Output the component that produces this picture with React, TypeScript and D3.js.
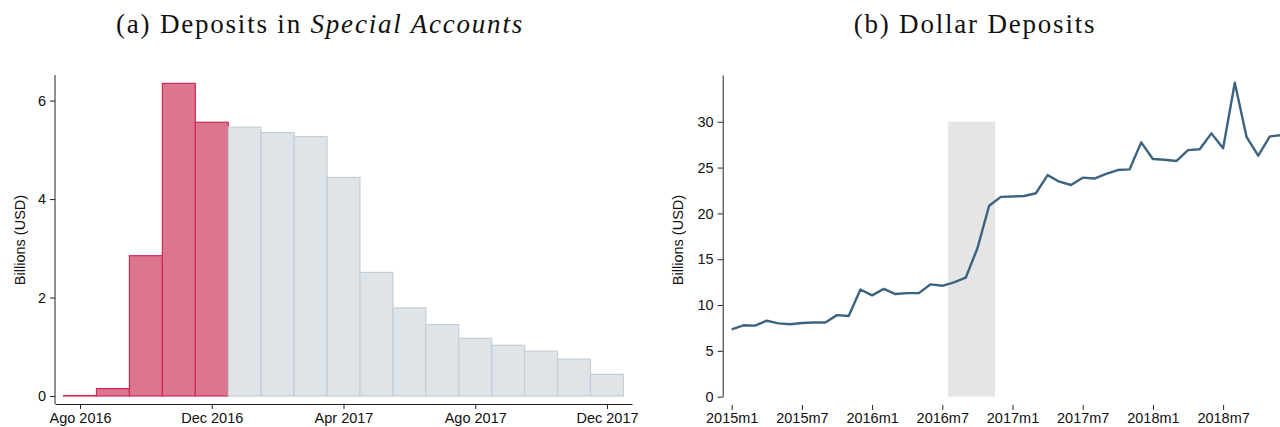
import React, { useEffect, useRef } from 'react'
import * as d3 from 'd3'

// panel (a): special accounts, monthly, Ago 2016 .. Dec 2017
const specialMonths = [
  'Ago 2016', 'Sep 2016', 'Oct 2016', 'Nov 2016', 'Dec 2016',
  'Jan 2017', 'Feb 2017', 'Mar 2017', 'Apr 2017', 'May 2017', 'Jun 2017',
  'Jul 2017', 'Ago 2017', 'Sep 2017', 'Oct 2017', 'Nov 2017', 'Dec 2017',
]
const specialValues = [0.01, 0.15, 2.85, 6.35, 5.56, 5.46, 5.35, 5.27, 4.44, 2.51, 1.79, 1.45, 1.17, 1.03, 0.91, 0.75, 0.44]
const specialWindow = ['Ago 2016', 'Sep 2016', 'Oct 2016', 'Nov 2016', 'Dec 2016']
const specialTicks = ['Ago 2016', 'Dec 2016', 'Apr 2017', 'Ago 2017', 'Dec 2017']
const specialYTicks = [0, 2, 4, 6]

// panel (b): dollar deposits, monthly from 2015m1
const dollarStart = { year: 2015, month: 1 }
const dollarValues = [
  7.35, 7.79, 7.75, 8.29, 8.0, 7.9, 8.04, 8.1, 8.1, 8.9, 8.8, 11.7,
  11.06, 11.76, 11.2, 11.3, 11.3, 12.26, 12.1, 12.48, 12.98, 16.19, 20.84, 21.8,
  21.85, 21.9, 22.2, 24.18, 23.46, 23.1, 23.9, 23.8, 24.3, 24.73, 24.8, 27.75,
  25.93, 25.86, 25.71, 26.9, 27.0, 28.73, 27.1, 34.26, 28.36, 26.3, 28.4, 28.55,
]
const dollarShade = { from: '2016m8', to: '2016m11', height: 30 }
const dollarTicks = ['2015m1', '2015m7', '2016m1', '2016m7', '2017m1', '2017m7', '2018m1', '2018m7']
const dollarYTicks = [0, 5, 10, 15, 20, 25, 30]

const W = 1280
const H = 427
const SANS = "'Liberation Sans', Arial, sans-serif"
const SERIF = "'Liberation Serif', 'Times New Roman', serif"
const TICK_FS = 14.5

const dollarIndex = (lbl: string) => {
  const [y, m] = lbl.split('m').map(Number)
  return (y - dollarStart.year) * 12 + (m - dollarStart.month)
}

export default function App() {
  const svgRef = useRef<SVGSVGElement | null>(null)

  useEffect(() => {
    const svg = d3.select(svgRef.current)
    svg.selectAll('*').remove()

    // ---------- panel (a)
    const a = svg.append('g')
    const ax = d3.scaleLinear().domain([-0.76, specialMonths.length - 0.24]).range([55, 632])
    const ay = d3.scaleLinear().domain([0, 6.52]).range([396, 75])
    const bw = ax(1) - ax(0)

    a.append('g')
      .selectAll('rect')
      .data(specialValues)
      .join('rect')
      .attr('x', (_, i) => ax(i) - bw / 2)
      .attr('y', d => ay(d))
      .attr('width', bw)
      .attr('height', d => ay(0) - ay(d))
      .attr('fill', (_, i) => specialWindow.includes(specialMonths[i]) ? '#dc7590' : '#dfe4e9')
      .attr('stroke', (_, i) => specialWindow.includes(specialMonths[i]) ? '#cf2b53' : '#c3ced7')
      .attr('stroke-width', 1.2)

    a.append('g')
      .attr('transform', 'translate(0,404)')
      .call(d3.axisBottom(ax)
        .tickValues(specialTicks.map(t => specialMonths.indexOf(t)))
        .tickFormat(i => specialMonths[+i])
        .tickSize(5).tickSizeOuter(0).tickPadding(4))
    a.append('g')
      .attr('transform', 'translate(55,0)')
      .call(d3.axisLeft(ay).tickValues(specialYTicks).tickFormat(d3.format('d'))
        .tickSize(5).tickSizeOuter(0).tickPadding(4))
    a.select('g:nth-of-type(3) .domain').attr('d', 'M0,75V404')

    a.append('text')
      .attr('transform', 'translate(25,240) rotate(-90)')
      .attr('text-anchor', 'middle')
      .attr('font-family', SANS).attr('font-size', 14.5).attr('fill', '#111')
      .text('Billions (USD)')

    // serif titles; a little tracking to approach the LaTeX width
    const ta = a.append('text')
      .attr('x', 320).attr('y', 33)
      .attr('text-anchor', 'middle')
      .attr('font-family', SERIF).attr('font-size', 27).attr('letter-spacing', 1.8).attr('fill', '#111')
    ta.append('tspan').text('(a) Deposits in ')
    ta.append('tspan').attr('font-style', 'italic').text('Special Accounts')

    // ---------- panel (b)
    const b = svg.append('g')
    const bx = d3.scaleLinear().domain([-0.77, 47]).range([722.7, 722.7 + 47.77 * 11.7])
    const by = d3.scaleLinear().domain([0, 35.1]).range([396.7, 75])

    b.append('rect')
      .attr('x', bx(dollarIndex(dollarShade.from) - 0.5))
      .attr('y', by(dollarShade.height))
      .attr('width', bx(dollarIndex(dollarShade.to) + 0.5) - bx(dollarIndex(dollarShade.from) - 0.5))
      .attr('height', by(0) - by(dollarShade.height))
      .attr('fill', '#e5e5e5')

    const line = d3.line<number>().x((_, i) => bx(i)).y(d => by(d))
    b.append('path')
      .datum(dollarValues)
      .attr('d', line)
      .attr('fill', 'none')
      .attr('stroke', '#3c6481')
      .attr('stroke-width', 2.4)
      .attr('stroke-linejoin', 'round')

    b.append('g')
      .attr('transform', 'translate(0,405)')
      .call(d3.axisBottom(bx)
        .tickValues(dollarTicks.map(dollarIndex))
        .tickFormat(i => dollarTicks[dollarTicks.map(dollarIndex).indexOf(+i)])
        .tickSize(5).tickSizeOuter(0).tickPadding(3))
    b.append('g')
      .attr('transform', 'translate(722.7,0)')
      .call(d3.axisLeft(by).tickValues(dollarYTicks).tickFormat(d3.format('d'))
        .tickSize(5).tickSizeOuter(0).tickPadding(4))
    b.select('g:nth-of-type(2) .domain').attr('d', 'M0,75V405')

    b.append('text')
      .attr('transform', 'translate(683,240) rotate(-90)')
      .attr('text-anchor', 'middle')
      .attr('font-family', SANS).attr('font-size', 14.5).attr('fill', '#111')
      .text('Billions (USD)')

    b.append('text')
      .attr('x', 975).attr('y', 33)
      .attr('text-anchor', 'middle')
      .attr('font-family', SERIF).attr('font-size', 27).attr('letter-spacing', 1.8).attr('fill', '#111')
      .text('(b) Dollar Deposits')

    svg.selectAll('.tick text').attr('font-family', SANS).attr('font-size', TICK_FS).attr('fill', '#111')
    svg.selectAll('.domain, .tick line').attr('stroke', '#222')
  }, [])

  return (
    <svg ref={svgRef} width={W} height={H}
      style={{ position: 'absolute', left: 0, top: 0, background: '#fff' }} />
  )
}
